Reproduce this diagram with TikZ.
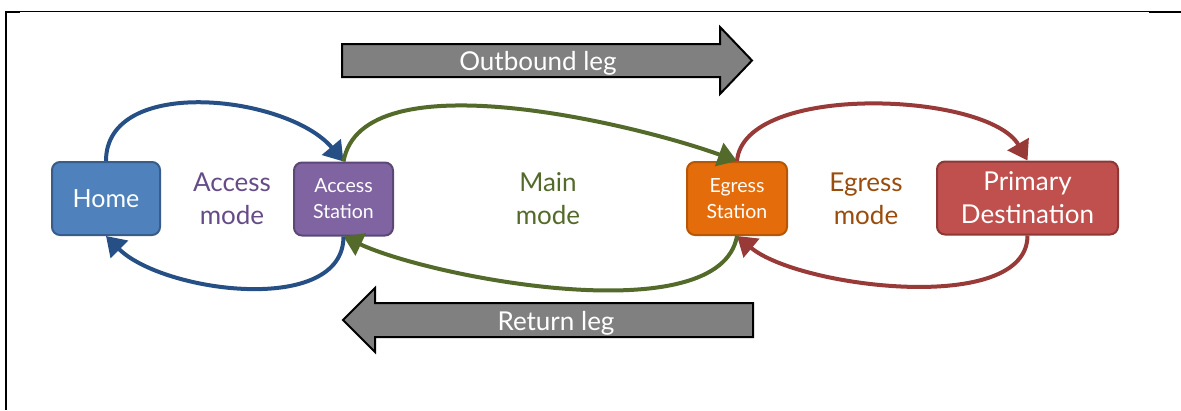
\documentclass[tikz,border=0pt]{standalone}
\usepackage{fontspec}
\setmainfont{Lato}
\usetikzlibrary{arrows.meta}

\definecolor{homefill}{HTML}{4F81BD}
\definecolor{homeedge}{HTML}{385D8A}
\definecolor{accfill}{HTML}{8064A2}
\definecolor{accedge}{HTML}{5C4776}
\definecolor{egrfill}{HTML}{E46C0A}
\definecolor{egredge}{HTML}{B65708}
\definecolor{destfill}{HTML}{C0504D}
\definecolor{destedge}{HTML}{8C3836}
\definecolor{bluearc}{HTML}{264F86}
\definecolor{greenarc}{HTML}{536A2A}
\definecolor{redarc}{HTML}{983A38}
\definecolor{acctext}{HTML}{654C88}
\definecolor{egrtext}{HTML}{9A4C0C}
\definecolor{leggray}{HTML}{808080}

\tikzset{
  place/.style={draw, line width=2pt, rounded corners=8pt, text=white,
    align=center, inner sep=0pt, minimum height=73pt},
  smalltext/.style={font=\fontsize{19.5}{26}\selectfont},
  bigtext/.style={font=\fontsize{26}{33}\selectfont},
  modetext/.style={bigtext, align=center},
  flow/.style={line width=4pt, -{Triangle[length=19pt,width=24pt]}},
  legarrow/.style={draw=black, line width=2pt, fill=leggray},
}

\begin{document}
\begin{tikzpicture}[x=1pt,y=1pt]
  \useasboundingbox (0,0) rectangle (1181,-410);

  %% frame
  \draw[line width=1.3pt] (6,-11.7) -- (1181,-11.7);
  \draw[line width=2pt] (6,-11) -- (6,-410);
  \draw[line width=2pt] (5,-12.4) -- (20,-12.4);
  \draw[line width=2pt] (1149,-12.2) -- (1181,-12.2);

  %% stops
  \node[place, fill=homefill, draw=homeedge, minimum width=108pt,
        font=\fontsize{25}{30}\selectfont] (home) at (106,-198.5) {Home};
  \node[place, fill=accfill, draw=accedge, minimum width=99pt, smalltext]
        (access) at (343.5,-199) {Access\\Station};
  \node[place, fill=egrfill, draw=egredge, minimum width=100pt, smalltext]
        (egress) at (737,-198.5) {Egress\\Station};
  \node[place, fill=destfill, draw=destedge, minimum width=181pt, bigtext]
        (dest) at (1027.5,-198) {Primary\\Destination};

  %% modes
  \node[modetext, text=acctext] (accmode) at (232,-199) {Access\\mode};
  \node[modetext, text=greenarc] (mainmode) at (548,-199) {Main\\mode};
  \node[modetext, text=egrtext] (egrmode) at (866,-199) {Egress\\mode};

  %% outward trip
  \draw[flow, bluearc] (home.north) to[out=90, in=130, looseness=0.93] (access.north);
  \draw[flow, greenarc] (access.north) to[out=80, in=160, looseness=0.69] (egress.north);
  \draw[flow, redarc] (egress.north) to[out=85, in=120, looseness=0.7] (dest.north);

  %% way back
  \draw[flow, redarc] (dest.south) to[out=-90, in=-40, looseness=0.71] (egress.south);
  \draw[flow, greenarc] (egress.south) to[out=-100, in=-25, looseness=0.64] (access.south);
  \draw[flow, bluearc] (access.south) to[out=-90, in=-45, looseness=0.86] (home.south);

  %% legs
  \draw[legarrow] (342,-44) -- (720,-44) -- (720,-27) -- (752,-60.5)
    -- (720,-94) -- (720,-77) -- (342,-77) -- cycle;
  \node[bigtext, text=white, anchor=base] (outleg) at (538,-70) {Outbound leg};

  \draw[legarrow] (343,-320) -- (375,-288) -- (375,-303) -- (753,-303)
    -- (753,-337) -- (375,-337) -- (375,-352) -- cycle;
  \node[bigtext, text=white, anchor=base] (retleg) at (556,-330) {Return leg};
\end{tikzpicture}
\end{document}
